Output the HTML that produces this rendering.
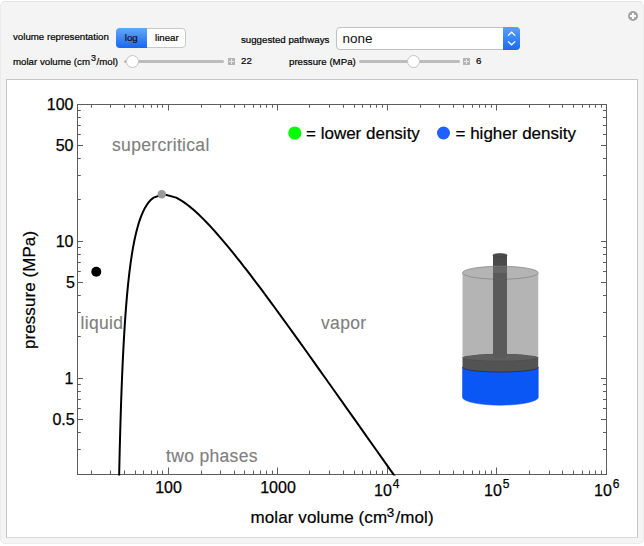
<!DOCTYPE html>
<html><head><meta charset="utf-8">
<style>
*{margin:0;padding:0;box-sizing:border-box}
html,body{width:644px;height:546px;background:#fff;overflow:hidden}
body{position:relative;font-family:"Liberation Sans",Arial,Helvetica,sans-serif;color:#000}
.outer{position:absolute;left:0;top:1px;width:644px;height:543px;background:#f4f4f4;border:1px solid #ebebeb;border-top-color:#e2e2e2;border-radius:5px}
.inner{position:absolute;left:6px;top:79px;width:632px;height:459px;background:#fff;border:1px solid #c6c6c6;border-bottom-color:#dadada}
.lbl{position:absolute;font-size:9.7px;white-space:nowrap;line-height:1;-webkit-text-stroke:0.2px #000}
.tog{position:absolute;left:116px;top:28px;width:70px;height:20px;border-radius:4px;border:1px solid #c8c8c8;background:#fff;font-size:9.7px}
.tog .on{position:absolute;left:-1px;top:-1px;width:31px;height:20px;background:linear-gradient(#62a8fb,#1767f2);border-radius:4px 0 0 4px}
.tog span{position:absolute;top:4.2px;line-height:1;-webkit-text-stroke:0.2px #000}
.pop{position:absolute;left:336px;top:27px;width:184px;height:23px;border:1px solid #c0c0c0;border-radius:4px;background:#fff}
.pop .t{position:absolute;left:5.6px;top:3.6px;font-size:13.5px;line-height:1;color:#111}
.pop .b{position:absolute;right:-1px;top:-1px;width:17px;height:23px;background:linear-gradient(#5c9ff9,#1a6af4);border-radius:0 4px 4px 0}
.track{position:absolute;height:3px;background:#bcbcbc;border-radius:2px}
.thumb{position:absolute;width:13px;height:13px;border-radius:50%;background:#fff;border:1px solid #c4c4c4}
.plus{position:absolute;width:7px;height:7px;background:#b4b4b4}
.plus:before{content:"";position:absolute;left:3px;top:1px;width:1px;height:5px;background:#e8e8e8}
.plus:after{content:"";position:absolute;left:1px;top:3px;width:5px;height:1px;background:#e8e8e8}
svg{position:absolute;left:0;top:0}
</style></head><body>
<div class="outer"></div>
<svg width="644" height="546" style="z-index:1">
<circle cx="633" cy="16" r="5" fill="#a2a2a2"/>
<path d="M633,13V19M630,16H636" stroke="#fff" stroke-width="2.2"/>
</svg>
<div class="lbl" style="left:13px;top:32px">volume representation</div>
<div class="tog"><div class="on"></div><span style="left:7.8px;color:#0d1a33">log</span><span style="left:38px">linear</span></div>
<div class="lbl" style="left:241px;top:35px">suggested pathways</div>
<div class="pop"><span class="t">none</span><div class="b"></div>
<svg width="17" height="23" style="left:auto;right:-1px;top:-1px"><path d="M5,8.6L8.6,5.2L12.2,8.6M5,14.4L8.6,17.8L12.2,14.4" stroke="#fff" stroke-width="1.3" fill="none"/></svg></div>
<div class="lbl" style="left:13px;top:57px">molar volume (cm<span style="font-size:9px;position:relative;top:-4.5px;margin:0 0.5px 0 1px">3</span>/mol)</div>
<div class="track" style="left:124px;top:60px;width:100px"></div>
<div class="thumb" style="left:126px;top:55px"></div>
<div class="plus" style="left:228px;top:58px"></div>
<div class="lbl" style="left:241px;top:56px">22</div>
<div class="lbl" style="left:289px;top:56.5px">pressure (MPa)</div>
<div class="track" style="left:359px;top:60px;width:101px"></div>
<div class="thumb" style="left:407px;top:55px"></div>
<div class="plus" style="left:463px;top:58px"></div>
<div class="lbl" style="left:476px;top:56px">6</div>
<div class="inner"></div>
<svg width="644" height="546" style="z-index:2;font-family:'Liberation Sans',Arial,sans-serif">
<defs><clipPath id="c"><rect x="77.5" y="104.5" width="529.0" height="371.0"/></clipPath></defs>
<rect x="77.5" y="104.5" width="529.0" height="370.0" fill="none" stroke="#5c5c5c" stroke-width="1"/>
<path d="M91.5,474.5V470.5M91.5,104.5V107.7M110.5,474.5V470.5M110.5,104.5V107.7M124.5,474.5V470.5M124.5,104.5V107.7M135.5,474.5V470.5M135.5,104.5V107.7M143.5,474.5V470.5M143.5,104.5V107.7M151.5,474.5V470.5M151.5,104.5V107.7M157.5,474.5V470.5M157.5,104.5V107.7M162.5,474.5V470.5M162.5,104.5V107.7M168.5,474.5V467.5M168.5,104.5V110.5M201.5,474.5V470.5M201.5,104.5V107.7M220.5,474.5V470.5M220.5,104.5V107.7M234.5,474.5V470.5M234.5,104.5V107.7M244.5,474.5V470.5M244.5,104.5V107.7M253.5,474.5V470.5M253.5,104.5V107.7M260.5,474.5V470.5M260.5,104.5V107.7M266.5,474.5V470.5M266.5,104.5V107.7M272.5,474.5V470.5M272.5,104.5V107.7M277.5,474.5V467.5M277.5,104.5V110.5M309.5,474.5V470.5M309.5,104.5V107.7M329.5,474.5V470.5M329.5,104.5V107.7M343.5,474.5V470.5M343.5,104.5V107.7M354.5,474.5V470.5M354.5,104.5V107.7M362.5,474.5V470.5M362.5,104.5V107.7M370.5,474.5V470.5M370.5,104.5V107.7M376.5,474.5V470.5M376.5,104.5V107.7M382.5,474.5V470.5M382.5,104.5V107.7M387.5,474.5V467.5M387.5,104.5V110.5M420.5,474.5V470.5M420.5,104.5V107.7M439.5,474.5V470.5M439.5,104.5V107.7M453.5,474.5V470.5M453.5,104.5V107.7M463.5,474.5V470.5M463.5,104.5V107.7M472.5,474.5V470.5M472.5,104.5V107.7M479.5,474.5V470.5M479.5,104.5V107.7M485.5,474.5V470.5M485.5,104.5V107.7M491.5,474.5V470.5M491.5,104.5V107.7M496.5,474.5V467.5M496.5,104.5V110.5M529.5,474.5V470.5M529.5,104.5V107.7M549.5,474.5V470.5M549.5,104.5V107.7M562.5,474.5V470.5M562.5,104.5V107.7M573.5,474.5V470.5M573.5,104.5V107.7M582.5,474.5V470.5M582.5,104.5V107.7M589.5,474.5V470.5M589.5,104.5V107.7M595.5,474.5V470.5M595.5,104.5V107.7M601.5,474.5V470.5M601.5,104.5V107.7M77.5,449.5H80.8M606.5,449.5H603.0M77.5,432.5H80.8M606.5,432.5H603.0M77.5,419.5H83.0M606.5,419.5H601.0M77.5,408.5H80.8M606.5,408.5H603.0M77.5,399.5H80.8M606.5,399.5H603.0M77.5,391.5H80.8M606.5,391.5H603.0M77.5,384.5H80.8M606.5,384.5H603.0M77.5,378.5H83.0M606.5,378.5H601.0M77.5,336.5H80.8M606.5,336.5H603.0M77.5,312.5H80.8M606.5,312.5H603.0M77.5,295.5H80.8M606.5,295.5H603.0M77.5,282.5H83.0M606.5,282.5H601.0M77.5,271.5H80.8M606.5,271.5H603.0M77.5,262.5H80.8M606.5,262.5H603.0M77.5,254.5H80.8M606.5,254.5H603.0M77.5,247.5H80.8M606.5,247.5H603.0M77.5,241.5H83.0M606.5,241.5H601.0M77.5,199.5H80.8M606.5,199.5H603.0M77.5,175.5H80.8M606.5,175.5H603.0M77.5,158.5H80.8M606.5,158.5H603.0M77.5,145.5H83.0M606.5,145.5H601.0M77.5,134.5H80.8M606.5,134.5H603.0M77.5,125.5H80.8M606.5,125.5H603.0M77.5,117.5H80.8M606.5,117.5H603.0M77.5,110.5H80.8M606.5,110.5H603.0M77.5,104.5H83.0M606.5,104.5H601.0" stroke="#5c5c5c" stroke-width="1" fill="none"/>
<g font-size="16" text-anchor="end" fill="#000" stroke="#000" stroke-width="0.25">
<text x="73.5" y="110.2">100</text>
<text x="73.5" y="150.9">50</text>
<text x="73.5" y="247.1">10</text>
<text x="75" y="288.2">5</text>
<text x="73.5" y="384.4">1</text>
<text x="74.7" y="425.3">0.5</text>
</g>
<g font-size="16" text-anchor="middle" fill="#000" stroke="#000" stroke-width="0.25">
<text x="168.5" y="493">100</text>
<text x="278" y="493">1000</text>
<text x="374" y="496" text-anchor="start">10<tspan font-size="12" dx="1" dy="-8">4</tspan></text>
<text x="484" y="496" text-anchor="start">10<tspan font-size="12" dx="1" dy="-8">5</tspan></text>
<text x="594" y="496" text-anchor="start">10<tspan font-size="12" dx="1" dy="-8">6</tspan></text>
</g>
<path d="M118.97,483.34 L119.23,471.33 L119.49,459.90 L119.75,449.01 L120.02,438.62 L120.29,428.70 L120.57,419.20 L120.86,410.11 L121.15,401.39 L121.45,393.02 L121.75,384.98 L122.06,377.25 L122.38,369.81 L122.70,362.63 L123.03,355.72 L123.37,349.04 L123.71,342.59 L124.07,336.36 L124.43,330.32 L124.80,324.48 L125.18,318.82 L125.57,313.34 L125.97,308.01 L126.39,302.84 L126.81,297.82 L127.25,292.94 L127.70,288.20 L128.16,283.58 L128.64,279.09 L129.14,274.71 L129.65,270.44 L130.18,266.28 L130.73,262.23 L131.30,258.27 L131.89,254.40 L132.51,250.62 L133.16,246.93 L133.83,243.33 L134.54,239.80 L135.28,236.35 L136.06,232.97 L136.89,229.67 L137.77,226.43 L138.71,223.26 L139.72,220.15 L140.72,217.36 L141.71,214.81 L142.79,212.30 L143.97,209.83 L145.27,207.40 L146.73,205.02 L148.40,202.66 L150.40,200.35 L153.47,197.65 L163.76,194.28 L176.21,197.65 L181.01,200.35 L184.49,202.66 L187.67,205.02 L190.67,207.40 L193.53,209.83 L196.29,212.30 L198.97,214.81 L201.61,217.36 L204.40,220.15 L207.40,223.26 L210.38,226.43 L213.34,229.67 L216.30,232.97 L219.25,236.35 L222.22,239.80 L225.20,243.33 L228.20,246.93 L231.23,250.62 L234.29,254.40 L237.38,258.27 L240.51,262.23 L243.69,266.28 L246.92,270.44 L250.20,274.71 L253.53,279.09 L256.93,283.58 L260.40,288.20 L263.95,292.94 L267.57,297.82 L271.27,302.84 L275.06,308.01 L278.95,313.34 L282.94,318.82 L287.04,324.48 L291.26,330.32 L295.60,336.36 L300.07,342.59 L304.68,349.04 L309.45,355.72 L314.37,362.63 L319.47,369.81 L324.75,377.25 L330.23,384.98 L335.93,393.02 L341.85,401.39 L348.02,410.11 L354.45,419.20 L361.16,428.70 L368.19,438.62 L375.54,449.01 L383.25,459.90 L391.36,471.33 L399.88,483.34" clip-path="url(#c)" stroke="#000" stroke-width="2" fill="none" stroke-linejoin="round"/>
<circle cx="161.75" cy="194.25" r="4.2" fill="#999"/>
<circle cx="96.3" cy="271.8" r="5" fill="#000"/>
<g font-size="17.5" fill="#808080" letter-spacing="0.33" stroke="#808080" stroke-width="0.15">
<text x="112" y="150.6">supercritical</text>
<text x="80.5" y="328.5">liquid</text>
<text x="321" y="328.5">vapor</text>
<text x="166" y="461.6">two phases</text>
</g>
<circle cx="294.8" cy="133" r="6.6" fill="#00ff00"/>
<circle cx="443.5" cy="133" r="6.5" fill="#2060ff"/>
<g font-size="17" fill="#000" stroke="#000" stroke-width="0.2">
<text x="306" y="139">= lower density</text>
<text x="455.5" y="139">= higher density</text>
<text x="250.5" y="522.8" letter-spacing="0.1">molar volume (cm<tspan font-size="13.5" dx="-0.4" dy="-6">3</tspan><tspan dx="1" dy="6">/mol)</tspan></text>
<text transform="translate(34.7,349) rotate(-90)" letter-spacing="0.07">pressure (MPa)</text>
</g>
<!-- piston -->
<g>
<path d="M462.5,367.4V397.3A37.75,7.8 0 0 0 538.25,397.3V367.4Z" fill="#0b57f6" stroke="#0a48d0" stroke-width="0.5"/>
<path d="M462.5,357.6V367.4A37.75,4.6 0 0 0 538.25,367.4V357.6Z" fill="#535353"/>
<path d="M462.5,367.4A37.75,4.6 0 0 0 538.25,367.4" fill="none" stroke="#2a2a3a" stroke-width="0.8"/>
<ellipse cx="500.4" cy="357.5" rx="37.75" ry="3.7" fill="#5e5e5e" stroke="#4a4a4a" stroke-width="0.6"/>
<path d="M462.5,272.9A37.75,6.6 0 0 1 538.25,272.9V357.5A37.75,3.7 0 0 0 462.5,357.5Z" fill="#b4b4b4"/>
<rect x="493" y="255" width="14" height="103" fill="#5a5a5a"/>
<rect x="493" y="255" width="14" height="11.5" fill="#4b4b4b"/>
<rect x="493" y="266.5" width="14" height="6.5" fill="#666"/>
<ellipse cx="500" cy="255.3" rx="7" ry="1.8" fill="#4b4b4b" stroke="#3e3e3e" stroke-width="0.6"/>
<path d="M493,266.6H507" stroke="#3a3a3a" stroke-width="0.8"/>
<path d="M462.5,272.9A37.75,6.6 0 0 1 538.25,272.9" fill="none" stroke="#888" stroke-width="0.8"/>
<path d="M462.5,272.9A37.75,6.6 0 0 0 493,279.2M507,279.2A37.75,6.6 0 0 0 538.25,272.9" fill="none" stroke="#888" stroke-width="0.8"/>
</g>
</svg>
</body></html>
